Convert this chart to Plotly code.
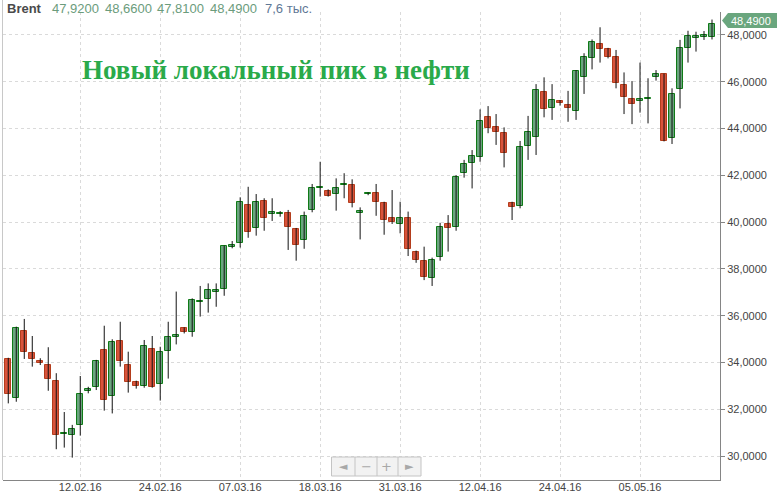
import plotly.graph_objects as go

# ---- data (Brent daily candles) ----
opens = [34.15, 32.47, 35.34, 34.40, 34.03, 33.88, 33.21, 30.92, 30.88, 31.34,
         32.80, 32.96, 34.53, 32.58, 34.90, 33.88, 33.15, 33.01, 34.57, 33.06,
         34.47, 35.10, 35.46, 35.31, 36.57, 36.70, 37.00, 37.13, 38.95, 39.09,
         40.73, 39.73, 40.90, 40.36, 40.33, 40.38, 39.70, 39.22, 40.52, 41.45,
         41.33, 41.19, 41.57, 41.58, 40.41, 41.19, 41.23, 40.80, 40.16, 39.91,
         40.16, 38.71, 38.34, 37.60, 38.49, 39.92, 39.78, 42.09, 42.51, 42.77,
         44.48, 44.05, 43.82, 40.80, 40.69, 43.25, 43.62, 45.55, 44.86, 45.18,
         44.99, 44.76, 46.19, 47.00, 47.60, 47.39, 47.04, 45.86, 45.25, 45.17,
         45.25, 46.19, 46.32, 43.58, 45.68, 47.43, 47.87, 47.91, 47.92]
highs = [34.20, 35.53, 35.86, 35.13, 34.18, 34.65, 33.54, 31.88, 31.33, 33.42,
         32.96, 34.11, 35.57, 34.99, 35.74, 34.46, 33.22, 34.96, 35.13, 34.67,
         35.74, 37.03, 35.50, 36.74, 37.27, 37.38, 37.38, 39.00, 39.19, 41.06,
         41.51, 41.20, 41.02, 41.02, 40.47, 40.52, 39.75, 40.45, 41.63, 42.58,
         41.40, 41.87, 42.09, 41.83, 40.63, 41.27, 41.63, 40.87, 41.37, 40.87,
         40.45, 38.78, 38.95, 38.48, 39.97, 40.30, 42.01, 42.66, 43.08, 44.82,
         44.96, 44.62, 44.05, 40.87, 43.47, 44.54, 45.90, 46.19, 45.90, 45.22,
         45.61, 46.50, 47.22, 47.81, 48.33, 47.45, 47.36, 46.40, 46.03, 46.82,
         46.15, 46.50, 46.35, 45.72, 47.79, 48.18, 48.14, 48.17, 48.66]
lows = [32.25, 32.32, 34.15, 33.82, 33.89, 32.79, 30.29, 30.36, 29.93, 30.87,
        32.68, 32.82, 31.94, 31.82, 33.82, 32.71, 32.88, 32.92, 32.92, 32.37,
        33.31, 34.77, 35.24, 35.10, 35.96, 36.13, 36.38, 36.85, 38.88, 38.91,
        39.33, 39.42, 39.63, 40.05, 40.23, 38.81, 38.35, 38.86, 40.42, 41.09,
        41.09, 40.49, 41.02, 40.63, 39.26, 41.15, 40.27, 39.46, 39.92, 39.52,
        38.55, 38.26, 37.52, 37.27, 38.35, 38.74, 39.63, 41.90, 41.44, 42.58,
        43.80, 43.30, 42.34, 40.09, 40.59, 42.66, 42.87, 44.48, 44.37, 44.98,
        44.29, 44.37, 45.48, 46.53, 46.82, 47.00, 45.72, 44.62, 44.19, 44.68,
        44.22, 46.05, 43.45, 43.34, 44.86, 46.82, 47.29, 47.79, 47.81]
closes = [32.64, 35.46, 34.46, 34.16, 33.98, 33.28, 30.88, 30.98, 31.14, 32.64,
          32.86, 34.06, 32.38, 34.87, 34.05, 33.18, 33.01, 34.70, 32.96, 34.45,
          35.09, 35.17, 35.31, 36.66, 36.63, 37.10, 37.08, 38.98, 39.02, 40.85,
          39.59, 40.85, 40.19, 40.42, 40.38, 39.80, 39.03, 40.25, 41.44, 41.50,
          41.13, 41.44, 41.62, 40.80, 40.45, 41.24, 40.85, 40.08, 40.02, 40.16,
          38.84, 38.38, 37.67, 38.38, 39.78, 39.73, 41.91, 42.48, 42.83, 44.32,
          44.01, 43.87, 42.94, 40.63, 43.20, 43.84, 45.65, 44.82, 45.22, 45.08,
          44.86, 46.46, 47.04, 47.71, 47.39, 47.07, 45.96, 45.33, 45.03, 45.25,
          45.30, 46.32, 43.48, 45.46, 47.43, 47.96, 47.91, 47.96, 48.49]
tick_index = [9, 19, 29, 39, 49, 59, 69, 79]
tick_labels = ["12.02.16", "24.02.16", "07.03.16", "18.03.16",
               "31.03.16", "12.04.16", "24.04.16", "05.05.16"]
y_ticks = [30, 32, 34, 36, 38, 40, 42, 44, 46, 48]
instrument = "Brent"
volume_text = "7,6 тыс."
headline = "Новый локальный пик в нефти"

# ---- styling ----
W, H = 782, 499
ML, MR, MT, MB = 3, 62, 12, 19
PW, PH = W - ML - MR, H - MT - MB
UP_FILL, UP_LINE = "#6aa67e", "#0f7a16"
DN_FILL, DN_LINE = "#d9533b", "#b33d1c"

def px(x):
    return (x - ML) / PW

def py(y):
    return (H - MB - y) / PH

idx = list(range(len(opens)))
up = [c >= o for o, c in zip(opens, closes)]
base = [min(o, c) for o, c in zip(opens, closes)]
height = [max(abs(c - o), 0.07) for o, c in zip(opens, closes)]

wx, wy = [], []
for i, lo, hi in zip(idx, lows, highs):
    wx += [i, i, None]
    wy += [lo, hi, None]

fig = go.Figure()
fig.add_trace(go.Scatter(x=wx, y=wy, mode="lines",
                         line=dict(color="#111111", width=1),
                         hoverinfo="skip", showlegend=False))
fig.add_trace(go.Bar(x=idx, y=height, base=base, width=0.72,
                     marker=dict(color=[UP_FILL if u else DN_FILL for u in up],
                                 line=dict(color=[UP_LINE if u else DN_LINE for u in up],
                                           width=1)),
                     showlegend=False))

def fmt(v):
    return f"{v:.4f}".replace(".", ",")

annotations = []
header = [(instrument, 5, "#4a4a4a", True),
          (fmt(opens[-1]), 50, "#6b9c7c", False),
          (fmt(highs[-1]), 103, "#6b9c7c", False),
          (fmt(lows[-1]), 155, "#6b9c7c", False),
          (fmt(closes[-1]), 208, "#6b9c7c", False),
          (volume_text, 263, "#5f7896", False)]
for txt, xpos, col, bold in header:
    annotations.append(dict(x=px(xpos), y=py(8), xref="paper", yref="paper",
                            text=f"<b>{txt}</b>" if bold else txt,
                            showarrow=False, xanchor="left", yanchor="middle",
                            font=dict(family="Liberation Sans, Arial", size=13, color=col)))

annotations.append(dict(x=px(275.5), y=py(70), xref="paper", yref="paper",
                        text=f"<b>{headline}</b>", showarrow=False,
                        xanchor="center", yanchor="middle",
                        font=dict(family="Liberation Serif, serif", size=27, color="#2aaa4a")))

# last price tag
annotations.append(dict(x=px(751), y=py(20.5), xref="paper", yref="paper",
                        text=fmt(closes[-1]), showarrow=False,
                        xanchor="center", yanchor="middle",
                        font=dict(family="Liberation Sans, Arial", size=11, color="white")))

# navigator buttons
for sym, xpos in [("◄", 343), ("−", 366), ("+", 387), ("►", 409)]:
    annotations.append(dict(x=px(xpos), y=py(466.5), xref="paper", yref="paper",
                            text=sym, showarrow=False, xanchor="center", yanchor="middle",
                            font=dict(family="DejaVu Sans", size=11 if sym in "◄►" else 13,
                                      color="#a8a8a8")))

shapes = [
    dict(type="line", xref="paper", yref="paper", x0=px(2.5), x1=px(2.5),
         y0=py(480), y1=py(0), line=dict(color="#c8c8c8", width=1)),
    dict(type="path", xref="paper", yref="paper",
         path=(f"M {px(722)} {py(20.5)} L {px(728)} {py(13)} L {px(777)} {py(13)} "
               f"L {px(777)} {py(28)} L {px(728)} {py(28)} Z"),
         fillcolor="#6aa67e", line=dict(width=0)),
    dict(type="rect", xref="paper", yref="paper", x0=px(331.5), x1=px(421),
         y0=py(457), y1=py(476), fillcolor="#f2f2f2",
         line=dict(color="#c4c4c4", width=1)),
]
for xd in [355, 377, 398]:
    shapes.append(dict(type="line", xref="paper", yref="paper", x0=px(xd), x1=px(xd),
                       y0=py(457), y1=py(476), line=dict(color="#c4c4c4", width=1)))

fig.update_layout(
    width=W, height=H,
    margin=dict(l=ML, r=MR, t=MT, b=MB, autoexpand=False),
    paper_bgcolor="white", plot_bgcolor="white",
    separators=", ",
    bargap=0,
    hovermode=False,
    annotations=annotations,
    shapes=shapes,
    xaxis=dict(range=[-0.66, 89.0], tickmode="array", tickvals=tick_index,
               ticktext=tick_labels, showgrid=True, gridcolor="#dadada",
               griddash="dot", gridwidth=1, zeroline=False, automargin=False,
               showline=True, linecolor="#858585", linewidth=1,
               ticks="", ticklabelstandoff=-3,
               tickfont=dict(family="Liberation Sans, Arial", size=11, color="#444444")),
    yaxis=dict(side="right", range=[28.974, 48.983], tickmode="array",
               tickvals=y_ticks, tickformat=".4f", showgrid=True,
               gridcolor="#dadada", griddash="dot", gridwidth=1, zeroline=False,
               automargin=False,
               showline=True, linecolor="#858585", linewidth=1,
               ticks="outside", ticklen=4, tickcolor="#858585",
               tickfont=dict(family="Liberation Sans, Arial", size=11, color="#444444")),
)

fig.write_html("out.html",
               config={"displayModeBar": False},
               post_script="document.body.style.margin='0';document.body.style.overflow='hidden';")
